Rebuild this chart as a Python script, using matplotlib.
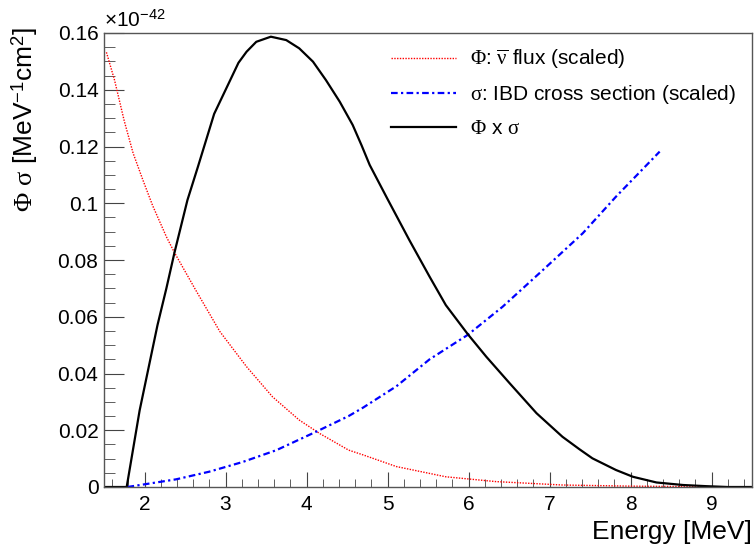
import numpy as np
import matplotlib
matplotlib.use("Agg")
import matplotlib.pyplot as plt
from matplotlib.ticker import MultipleLocator, FormatStrFormatter

plt.rcParams['font.family'] = ['Liberation Sans', 'DejaVu Sans']
plt.rcParams['mathtext.fontset'] = 'custom'
plt.rcParams['mathtext.rm'] = 'Liberation Serif'
plt.rcParams['mathtext.it'] = 'Liberation Serif'
plt.rcParams['mathtext.sf'] = 'Liberation Sans'

# values (units of 1e-42)
flux_E = [1.53, 1.63, 1.75, 1.86, 1.98, 2.10, 2.27, 2.37, 2.62, 2.93, 3.26,
          3.58, 3.91, 4.16, 4.52, 4.70, 5.11, 5.72, 6.34, 7.16, 8.00, 8.94]
flux_y = [0.1532, 0.1434, 0.1290, 0.1176, 0.1082, 0.0992, 0.0882, 0.0826,
          0.0700, 0.0548, 0.0424, 0.0318, 0.0236, 0.0189, 0.0130, 0.0113,
          0.0072, 0.0036, 0.0019, 0.0007, 0.0003, 0.0001]

xsec_E = [1.79, 2.39, 2.80, 3.21, 3.63, 4.12, 4.52, 4.70, 5.11, 5.52, 5.99,
          6.42, 6.92, 7.41, 7.82, 8.36]
xsec_y = [0.0, 0.0027, 0.0054, 0.0088, 0.0130, 0.0195, 0.0250, 0.0280,
          0.0355, 0.0450, 0.0536, 0.0635, 0.0765, 0.0894, 0.1023, 0.1182]

prod_E = [1.50, 1.78, 1.94, 2.16, 2.27, 2.37, 2.53, 2.66, 2.86, 3.01, 3.16,
          3.26, 3.38, 3.56, 3.75, 3.91, 4.08, 4.24, 4.41, 4.57, 4.68, 4.78,
          5.00, 5.27, 5.52, 5.72, 5.99, 6.22, 6.51, 6.84, 7.16, 7.37, 7.53,
          7.82, 8.03, 8.32, 8.65, 8.93, 9.20, 9.50]
prod_y = [0.0, 0.0, 0.027, 0.057, 0.070, 0.0826, 0.1011, 0.1129, 0.1315,
          0.1405, 0.1495, 0.1534, 0.1569, 0.1587, 0.1575, 0.1546, 0.1499,
          0.1434, 0.1358, 0.1276, 0.1204, 0.1135, 0.1015, 0.0870, 0.0741,
          0.0641, 0.0539, 0.0459, 0.0365, 0.0260, 0.0177, 0.0133, 0.0101,
          0.0060, 0.0036, 0.0016, 0.0007, 0.0003, 0.0, 0.0]

fig = plt.figure(figsize=(7.55, 5.5), dpi=100)
ax = fig.add_axes([104/755, 63/550, 648/755, 454/550])

ax.plot(flux_E, flux_y, color='#ff0000', lw=1.0, ls=(0, (1, 1)),
        label=r'$\Phi$: $\overline{\nu}$ flux (scaled)')
ax.plot(xsec_E, xsec_y, color='#0000ff', lw=1.6, ls=(0, (3, 1.5, 1, 1.5)),
        label=r'$\sigma$: IBD cross section (scaled)')
ax.plot(prod_E, prod_y, color='black', lw=1.6,
        label=r'$\Phi$ $\mathsf{x}$ $\sigma$')

ax.set_xlim(1.5, 9.5)
ax.set_ylim(0, 0.16)
ax.xaxis.set_major_locator(MultipleLocator(1))
ax.xaxis.set_minor_locator(MultipleLocator(0.2))
ax.yaxis.set_major_locator(MultipleLocator(0.02))
ax.yaxis.set_minor_locator(MultipleLocator(0.005))
ax.yaxis.set_major_formatter(FormatStrFormatter('%g'))
ax.xaxis.set_major_formatter(FormatStrFormatter('%g'))

ax.tick_params(which='both', direction='in', top=False, right=False,
               color='#444444', labelsize=15)
ax.tick_params(axis='x', which='major', length=11, pad=6)
ax.tick_params(axis='x', which='minor', length=6)
ax.tick_params(axis='y', which='major', length=14.5, pad=4)
ax.tick_params(axis='y', which='minor', length=8)
for s in ax.spines.values():
    s.set_color('#555555')
    s.set_linewidth(1.0)

ax.set_xlabel('Energy [MeV]', fontsize=19, ha='right')
ax.xaxis.set_label_coords(1.0, -0.072)
ax.set_ylabel(r'$\Phi$ $\sigma$ [MeV$^{\mathsf{-1}}$cm$^{\mathsf{2}}$]',
              fontsize=19, ha='right')
ax.yaxis.set_label_coords(-0.099, 1.013)

fig.text(104/755, 1 - 27/550, '×10$^{\\mathsf{-42}}$', fontsize=15,
         ha='left', va='baseline')

ax.legend(loc='upper left', bbox_to_anchor=(0.414, 1.009), frameon=False,
          fontsize=15, handlelength=3.1, handletextpad=0.7, labelspacing=0.6)

fig.savefig('out.png', dpi=100)
